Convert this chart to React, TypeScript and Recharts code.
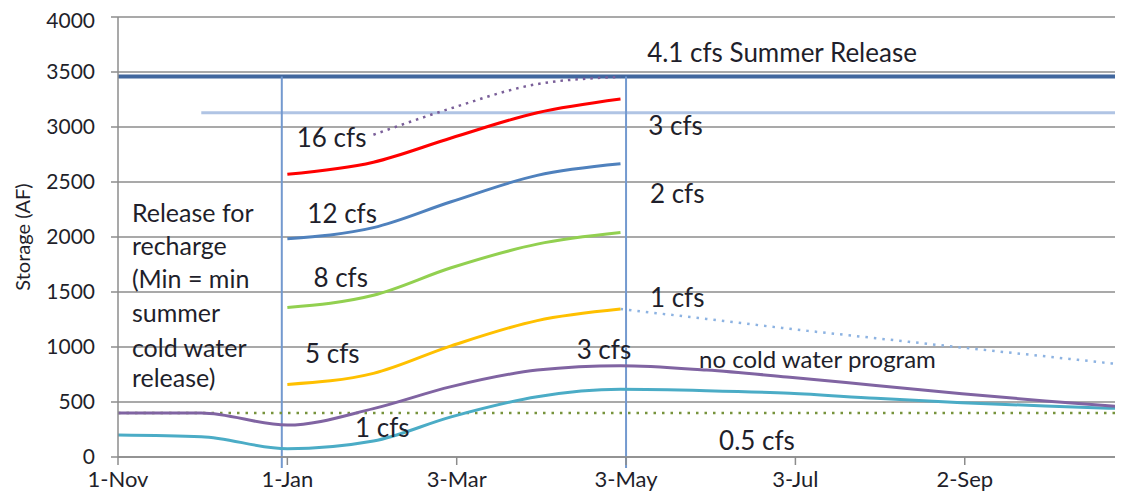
import React from "react";
import {
  ComposedChart,
  Line,
  XAxis,
  YAxis,
  CartesianGrid,
  ReferenceLine,
  ReferenceDot,
} from "recharts";

// x positions are days counted from 1-Nov
const TICK_DAYS = [0, 61, 122, 183, 244, 305];
const TICK_LABELS = ["1-Nov", "1-Jan", "3-Mar", "3-May", "3-Jul", "2-Sep"];
const Y_TICKS = [0, 500, 1000, 1500, 2000, 2500, 3000, 3500, 4000];

// month starts: Nov, Dec, Jan, Feb, Mar, Apr, May, Jun, Jul, Aug, Sep, Oct, end
const YEAR_DAYS = [0, 30, 61, 92, 120, 151, 181, 212, 242, 273, 304, 334, 362];
const RECHARGE_DAYS = [61, 92, 120, 151, 181];
const DOTTED_16_DAYS = [92, 120, 151, 181];
const AFTER_MAY_DAYS = [181, 212, 242, 273, 304, 334, 362];
const FLAT_DAYS = [0, 362];

const cfs16 = [2570, 2680, 2900, 3130, 3255];
const cfs16Dotted = [2930, 3170, 3390, 3455];
const cfs12 = [1985, 2085, 2320, 2560, 2665];
const cfs8 = [1360, 1470, 1720, 1935, 2040];
const cfs5 = [660, 760, 1010, 1240, 1345];
const cfs1Summer = [1345, 1255, 1165, 1080, 995, 915, 840];
const noProgram = [400, 400, 290, 440, 640, 790, 830, 790, 725, 650, 575, 510, 455];
const cfs1 = [200, 185, 75, 145, 365, 548, 615, 603, 580, 533, 494, 464, 440];
const minRelease = [400, 400];

const SUMMER_RELEASE = 3460;
const THREE_CFS_LEVEL = 3130;
const THREE_CFS_START = 30;
const MARKER_DAYS = [59, 183];
const MARKER_BOTTOM = -100;

const NOTES = [
  { text: "4.1 cfs Summer Release", x: 190.6, y: 3682 },
  { text: "3 cfs", x: 191, y: 3018 },
  { text: "2 cfs", x: 191.6, y: 2403 },
  { text: "1 cfs", x: 191.6, y: 1457 },
  { text: "3 cfs", x: 165.2, y: 982 },
  { text: "1 cfs", x: 85.4, y: 275 },
  { text: "5 cfs", x: 67.4, y: 948 },
  { text: "8 cfs", x: 70.4, y: 1634 },
  { text: "12 cfs", x: 68.2, y: 2215 },
  { text: "16 cfs", x: 64.4, y: 2912 },
  { text: "0.5 cfs", x: 216.5, y: 155 },
];
const SMALL_NOTES = [{ text: "no cold water program", x: 209.3, y: 897 }];
const RELEASE_LINES = ["Release for", "recharge", "(Min = min", "summer", "cold water", "release)"];
const RELEASE_X = 5;
const RELEASE_Y = [2230, 1927, 1627, 1321, 1003, 730];

const zip = (days: number[], vals: number[]) => days.map((d, i) => ({ day: d, v: vals[i] }));

const FONT = "Lato, 'Open Sans', sans-serif";
const INK = "#1f1f2b";

const noteShape = (text: string, size: number) => (p: any) => (
  <text
    x={p.cx}
    y={p.cy}
    fontFamily={FONT}
    fontSize={size}
    fill={INK}
    textAnchor="start"
    dominantBaseline="central"
  >
    {text}
  </text>
);

const dateLabel = (d: number) => TICK_LABELS[TICK_DAYS.indexOf(d)] ?? "";

export default function App() {
  return (
    <div style={{ width: 1115, height: 495 }}>
      <ComposedChart width={1115} height={495} margin={{ top: 9, right: 0, left: 0, bottom: 0 }}>
        <CartesianGrid stroke="#8c8c8c" strokeWidth={1.5} vertical={false} />
        <XAxis
          type="number"
          dataKey="day"
          domain={[0, 362]}
          ticks={TICK_DAYS}
          tickFormatter={dateLabel}
          height={46}
          stroke="#8c8c8c"
          strokeWidth={1.5}
          tickSize={8}
          tickMargin={6}
          tick={{ fill: INK, fontSize: 22, fontFamily: FONT }}
        />
        <YAxis
          type="number"
          domain={[0, 4000]}
          ticks={Y_TICKS}
          width={110}
          stroke="#8c8c8c"
          strokeWidth={1.5}
          tickSize={7}
          tickMargin={16}
          tick={{ fill: INK, fontSize: 21, fontFamily: FONT }}
          label={{
            content: ({ viewBox }: any) => (
              <text
                transform={`translate(${viewBox.x + 14}, ${viewBox.y + viewBox.height / 2}) rotate(-90)`}
                textAnchor="middle"
                dominantBaseline="central"
                fontFamily={FONT}
                fontSize={20}
                fill={INK}
              >
                Storage (AF)
              </text>
            ),
          }}
        />

        <ReferenceLine y={SUMMER_RELEASE} stroke="#41679e" strokeWidth={4} />
        <ReferenceLine
          segment={[
            { x: THREE_CFS_START, y: THREE_CFS_LEVEL },
            { x: 362, y: THREE_CFS_LEVEL },
          ]}
          stroke="#b0c4e4"
          strokeWidth={3}
        />
        {MARKER_DAYS.map((d) => (
          <ReferenceLine
            key={d}
            segment={[
              { x: d, y: SUMMER_RELEASE },
              { x: d, y: MARKER_BOTTOM },
            ]}
            ifOverflow="visible"
            stroke="#7399cf"
            strokeWidth={2}
          />
        ))}

        <Line data={zip(FLAT_DAYS, minRelease)} dataKey="v" stroke="#77933c" strokeWidth={2.5} strokeDasharray="2.5 6" dot={false} isAnimationActive={false} />
        <Line data={zip(AFTER_MAY_DAYS, cfs1Summer)} dataKey="v" type="monotone" stroke="#8db3e2" strokeWidth={2.5} strokeDasharray="2.5 6" dot={false} isAnimationActive={false} />
        <Line data={zip(DOTTED_16_DAYS, cfs16Dotted)} dataKey="v" type="monotone" stroke="#7a5f99" strokeWidth={2.5} strokeDasharray="2.5 5" dot={false} isAnimationActive={false} />
        <Line data={zip(YEAR_DAYS, cfs1)} dataKey="v" type="monotone" stroke="#4bacc6" strokeWidth={3} dot={false} isAnimationActive={false} />
        <Line data={zip(YEAR_DAYS, noProgram)} dataKey="v" type="monotone" stroke="#8064a2" strokeWidth={3} dot={false} isAnimationActive={false} />
        <Line data={zip(RECHARGE_DAYS, cfs5)} dataKey="v" type="monotone" stroke="#ffc000" strokeWidth={3} dot={false} isAnimationActive={false} />
        <Line data={zip(RECHARGE_DAYS, cfs8)} dataKey="v" type="monotone" stroke="#92d050" strokeWidth={3} dot={false} isAnimationActive={false} />
        <Line data={zip(RECHARGE_DAYS, cfs12)} dataKey="v" type="monotone" stroke="#4f81bd" strokeWidth={3} dot={false} isAnimationActive={false} />
        <Line data={zip(RECHARGE_DAYS, cfs16)} dataKey="v" type="monotone" stroke="#ff0000" strokeWidth={3} dot={false} isAnimationActive={false} />

        {NOTES.map((n, i) => (
          <ReferenceDot key={"n" + i} x={n.x} y={n.y} r={0} shape={noteShape(n.text, 26)} />
        ))}
        {SMALL_NOTES.map((n, i) => (
          <ReferenceDot key={"s" + i} x={n.x} y={n.y} r={0} shape={noteShape(n.text, 24)} />
        ))}
        {RELEASE_LINES.map((t, i) => (
          <ReferenceDot key={"r" + i} x={RELEASE_X} y={RELEASE_Y[i]} r={0} shape={noteShape(t, 25)} />
        ))}
      </ComposedChart>
    </div>
  );
}
